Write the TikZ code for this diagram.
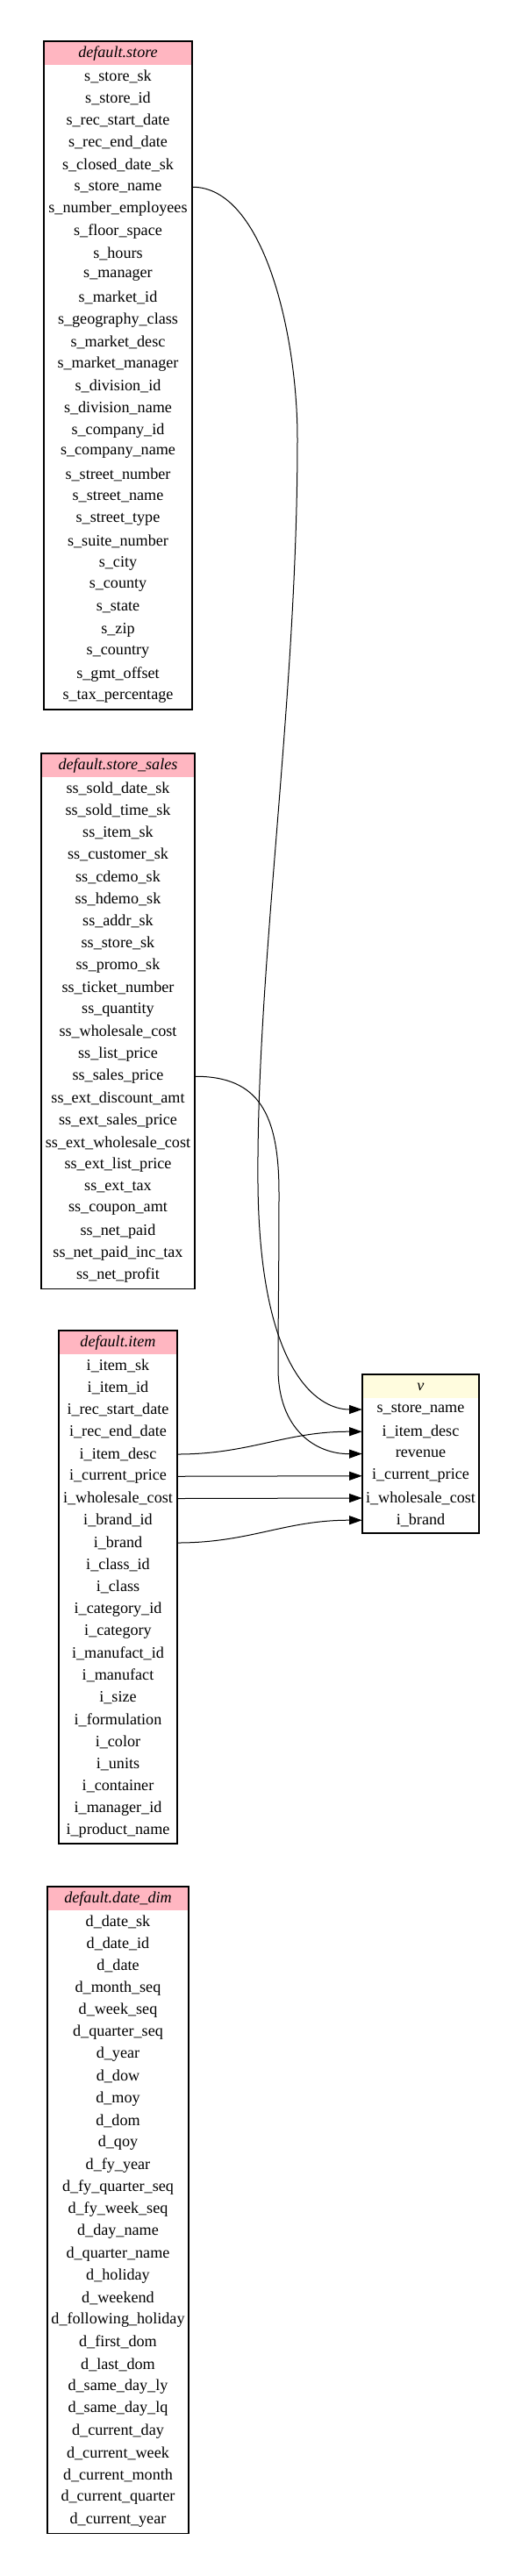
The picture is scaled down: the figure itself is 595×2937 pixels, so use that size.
\documentclass[tikz,border=0pt]{standalone}
\usepackage{fontspec}
\setmainfont{Liberation Serif}
\usetikzlibrary{arrows.meta}
\definecolor{headpink}{RGB}{255,182,193}
\definecolor{headcream}{RGB}{255,252,222}
\tikzset{
    field/.style={minimum width=#1, minimum height=18.94pt, inner sep=0pt, font=\fontsize{13.6}{16}\selectfont},
    header/.style={field=#1, minimum height=19.5pt, font=\fontsize{13.6}{16}\selectfont\itshape},
    tablebox/.style={draw, line width=0.8pt},
    link/.style={line width=0.75pt, -{Triangle[length=11pt,width=7.5pt]}}
}
\begin{document}
\begin{tikzpicture}[x=0.75pt,y=-0.75pt]
\useasboundingbox (0,0) rectangle (595,2937);
\node[header=125pt, fill=headpink] (store-h) at (134.5,61) {default.store};
\foreach \f [count=\i] in {s\_store\_sk, s\_store\_id, s\_rec\_start\_date, s\_rec\_end\_date, s\_closed\_date\_sk, s\_store\_name, s\_number\_employees, s\_floor\_space, s\_hours, s\_manager, s\_market\_id, s\_geography\_class, s\_market\_desc, s\_market\_manager, s\_division\_id, s\_division\_name, s\_company\_id, s\_company\_name, s\_street\_number, s\_street\_name, s\_street\_type, s\_suite\_number, s\_city, s\_county, s\_state, s\_zip, s\_country, s\_gmt\_offset, s\_tax\_percentage}
    \node[field=126.75pt] (store-\i) at (134.5,{87+(\i-1)*25.25}) {\f};
\draw[tablebox] (50,47) rectangle (219,809);
\node[header=129.5pt, fill=headpink] (ss-h) at (134.5,873) {default.store\_sales};
\foreach \f [count=\i] in {ss\_sold\_date\_sk, ss\_sold\_time\_sk, ss\_item\_sk, ss\_customer\_sk, ss\_cdemo\_sk, ss\_hdemo\_sk, ss\_addr\_sk, ss\_store\_sk, ss\_promo\_sk, ss\_ticket\_number, ss\_quantity, ss\_wholesale\_cost, ss\_list\_price, ss\_sales\_price, ss\_ext\_discount\_amt, ss\_ext\_sales\_price, ss\_ext\_wholesale\_cost, ss\_ext\_list\_price, ss\_ext\_tax, ss\_coupon\_amt, ss\_net\_paid, ss\_net\_paid\_inc\_tax, ss\_net\_profit}
    \node[field=131.25pt] (ss-\i) at (134.5,{899+(\i-1)*25.25}) {\f};
\draw[tablebox] (47,859) rectangle (222,1469.5);
\node[header=99.5pt, fill=headpink] (item-h) at (134.5,1531) {default.item};
\foreach \f [count=\i] in {i\_item\_sk, i\_item\_id, i\_rec\_start\_date, i\_rec\_end\_date, i\_item\_desc, i\_current\_price, i\_wholesale\_cost, i\_brand\_id, i\_brand, i\_class\_id, i\_class, i\_category\_id, i\_category, i\_manufact\_id, i\_manufact, i\_size, i\_formulation, i\_color, i\_units, i\_container, i\_manager\_id, i\_product\_name}
    \node[field=101.25pt] (item-\i) at (134.5,{1557+(\i-1)*25.25}) {\f};
\draw[tablebox] (67,1517) rectangle (202,2102);
\node[header=119pt, fill=headpink] (date-h) at (134.5,2165) {default.date\_dim};
\foreach \f [count=\i] in {d\_date\_sk, d\_date\_id, d\_date, d\_month\_seq, d\_week\_seq, d\_quarter\_seq, d\_year, d\_dow, d\_moy, d\_dom, d\_qoy, d\_fy\_year, d\_fy\_quarter\_seq, d\_fy\_week\_seq, d\_day\_name, d\_quarter\_name, d\_holiday, d\_weekend, d\_following\_holiday, d\_first\_dom, d\_last\_dom, d\_same\_day\_ly, d\_same\_day\_lq, d\_current\_day, d\_current\_week, d\_current\_month, d\_current\_quarter, d\_current\_year}
    \node[field=120.75pt] (date-\i) at (134.5,{2191+(\i-1)*25.25}) {\f};
\draw[tablebox] (54,2151) rectangle (215,2888);
\node[header=98pt, fill=headcream] (v-h) at (479.5,1581) {v};
\foreach \f [count=\i] in {s\_store\_name, i\_item\_desc, revenue, i\_current\_price, i\_wholesale\_cost, i\_brand}
    \node[field=99.75pt] (v-\i) at (479.5,{1607+(\i-1)*25.25}) {\f};
\draw[tablebox] (413,1567) rectangle (546,1748);
\draw[link] (store-6.east) .. controls (300,213) and (339,380) .. (339,500) .. controls (339,800) and (292,1100) .. (294,1350) .. controls (296,1560) and (360,1607) .. (v-1.west);
\draw[link] (ss-14.east) .. controls (295,1227) and (318,1270) .. (318,1360) .. controls (318,1450) and (317,1500) .. (317,1560) .. controls (317,1630) and (360,1658) .. (v-3.west);
\draw[link] (item-5.east) .. controls (285,1658) and (325,1632) .. (v-2.west);
\draw[link] (item-6.east) -- (v-4.west);
\draw[link] (item-7.east) -- (v-5.west);
\draw[link] (item-9.east) .. controls (285,1759) and (325,1733) .. (v-6.west);
\end{tikzpicture}
\end{document}
